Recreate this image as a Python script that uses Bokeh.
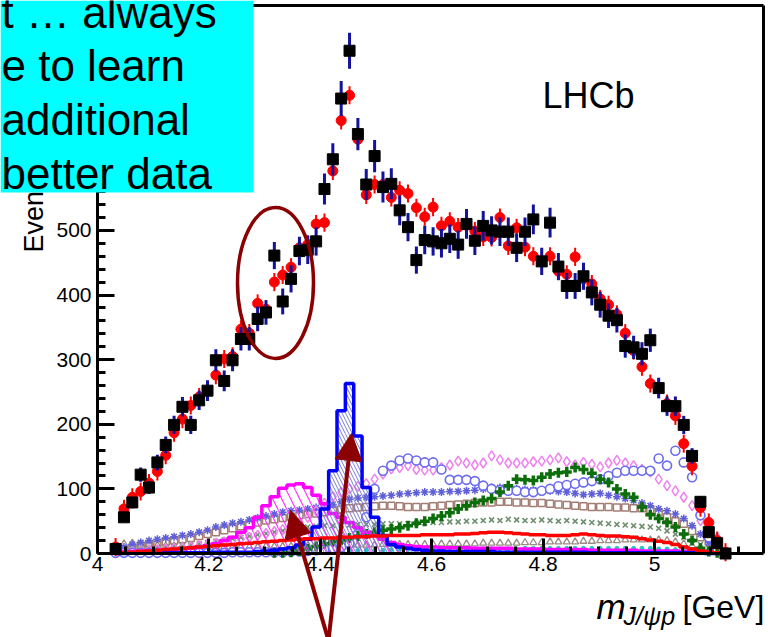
import numpy as np
from bokeh.plotting import figure
from bokeh.models import (FixedTicker, Label, Arrow, NormalHead, BoxAnnotation,
                          LinearAxis)
from bokeh.embed import file_html
from bokeh.resources import INLINE

# ---------------- data ----------------
bin_lo = 4.025          # lower edge of first 15 MeV bin
bin_w = 0.015

data_counts = [7, 56, 79, 122, 102, 141, 168, 199, 227, 199,
               237, 252, 299, 267, 299, 332, 332, 363, 373, 461,
               390, 425, 468, 470, 483, 564, 610, 704, 778, 649,
               571, 615, 567, 572, 531, 505, 454, 485, 483, 480,
               487, 478, 510, 484, 507, 500, 498, 498, 473, 498,
               517, 452, 512, 444, 414, 414, 429, 404, 385, 368,
               361, 321, 319, 309, 330, 256, 228, 228, 199, 151,
               80, 33, 16, 0]
data_err = [3, 7, 9, 11, 10, 12, 13, 14, 15, 14,
            15, 16, 17, 16, 17, 18, 18, 19, 19, 21,
            20, 21, 22, 22, 22, 24, 25, 27, 28, 25,
            24, 25, 24, 24, 23, 22, 21, 22, 22, 22,
            22, 22, 23, 22, 23, 22, 22, 22, 22, 22,
            23, 21, 23, 21, 20, 20, 21, 20, 20, 19,
            19, 18, 18, 18, 18, 16, 15, 15, 14, 12,
            9, 6, 4, 0]
fit_total = [10, 69, 87, 96, 109, 127, 152, 187, 208, 229,
             242, 252, 276, 301, 305, 347, 341, 387, 378, 420,
             431, 443, 473, 478, 510, 512, 592, 670, 709, 641,
             555, 571, 571, 551, 562, 557, 535, 521, 536, 507,
             514, 505, 508, 499, 490, 489, 520, 476, 504, 474,
             460, 453, 460, 437, 432, 459, 425, 417, 394, 385,
             370, 341, 314, 289, 263, 257, 232, 213, 170, 135,
             71, 48, 20, 2]
pc4450 = [0, 0, 1, 1, 1, 1, 1, 1, 1, 1,
          1, 1, 2, 2, 2, 2, 2, 3, 4, 5,
          7, 9, 13, 22, 41, 69, 128, 221, 263, 182,
          102, 56, 28, 14, 10, 8, 6, 5, 4, 4,
          3, 3, 3, 3, 3, 3, 2, 2, 2, 2,
          2, 2, 2, 2, 2, 2, 2, 1, 1, 1,
          1, 1, 1, 1, 1, 1, 1, 1, 1, 1,
          1, 0, 0, 0]
pc4380 = [2, 3, 3, 4, 4, 5, 5, 6, 7, 8,
          10, 12, 15, 20, 25, 33, 40, 56, 74, 88,
          101, 106, 108, 102, 90, 77, 62, 56, 48, 40,
          33, 28, 22, 17, 14, 12, 11, 10, 10, 9,
          9, 9, 9, 8, 8, 8, 8, 8, 7, 7,
          7, 7, 6, 6, 6, 6, 6, 5, 5, 5,
          5, 5, 5, 4, 4, 4, 4, 4, 3, 3,
          2, 2, 1, 0]
comp_circles = [1, 1, 1, 1, 1, 1, 1, 1, 1, 1,
                1, 1, 1, 1, 2, 2, 2, 2, 2, 2,
                2, 3, 3, 4, 5, 6, 8, 10, 15, 30,
                56, 100, 128, 136, 144, 147, 144, 141, 141, 130,
                114, 114, 114, 112, 105, 100, 98, 97, 97, 95,
                95, 97, 100, 104, 106, 108, 110, 112, 115, 120,
                125, 128, 128, 128, 128, 147, 136, 159, 141, 118,
                59, 25, 5, 0]
comp_diamonds = [1, 2, 3, 4, 5, 6, 7, 8, 9, 10,
                 12, 14, 16, 18, 20, 22, 25, 28, 31, 34,
                 37, 42, 48, 56, 66, 78, 88, 95, 100, 104,
                 108, 115, 123, 131, 133, 136, 130, 129, 129, 133,
                 137, 143, 140, 137, 140, 151, 145, 140, 140, 140,
                 142, 143, 145, 148, 142, 137, 141, 138, 134, 140,
                 144, 140, 136, 130, 126, 115, 105, 97, 87, 74,
                 51, 33, 25, 0]
comp_stars = [5, 10, 14, 17, 20, 22, 24, 26, 28, 30,
              33, 36, 41, 44, 47, 49, 52, 55, 58, 61,
              64, 66, 67, 69, 71, 72, 76, 80, 84, 86,
              87, 88, 89, 90, 92, 93, 94, 95, 95, 95,
              96, 96, 97, 98, 100, 102, 102, 101, 100, 99,
              98, 97, 97, 96, 95, 93, 91, 92, 93, 90,
              88, 85, 82, 78, 74, 69, 66, 61, 54, 43,
              30, 17, 10, 0]
comp_squares = [3, 6, 9, 12, 14, 16, 18, 20, 22, 24,
                27, 30, 33, 36, 39, 42, 45, 48, 51, 53,
                55, 57, 59, 61, 62, 64, 66, 68, 70, 71,
                72, 73, 74, 74, 73, 72, 72, 72, 73, 74,
                75, 76, 77, 78, 79, 79, 80, 80, 79, 79,
                78, 78, 77, 76, 75, 74, 73, 72, 72, 72,
                71, 71, 70, 70, 68, 64, 56, 50, 46, 35,
                25, 18, 10, 0]
comp_crosses = [0, 0, 0, 0, 0, 0, 0, 0, 0, 0,
                0, 0, 0, 0, 0, 0, 0, 0, 0, 1,
                1, 2, 4, 7, 11, 15, 18, 21, 24, 27,
                30, 33, 36, 38, 40, 43, 47, 50, 54, 58,
                63, 69, 74, 79, 82, 85, 95, 105, 115, 114,
                113, 118, 123, 125, 126, 133, 130, 124, 115, 110,
                100, 92, 87, 72, 60, 54, 48, 41, 30, 20,
                8, 3, 1, 0]
comp_xs = [1, 3, 5, 7, 8, 9, 10, 11, 12, 13,
           15, 17, 19, 21, 23, 25, 27, 29, 31, 33,
           35, 37, 39, 41, 42, 43, 43, 44, 44, 45,
           45, 45, 46, 46, 46, 46, 47, 47, 48, 48,
           49, 49, 50, 50, 51, 52, 51, 53, 52, 51,
           51, 52, 51, 50, 51, 50, 49, 48, 47, 46,
           45, 44, 43, 42, 41, 39, 35, 30, 25, 20,
           14, 8, 4, 0]
nonres = [0, 1, 2, 3, 4, 5, 6, 7, 8, 9,
          10, 11, 12, 13, 14, 15, 16, 17, 18, 19,
          20, 21, 22, 23, 23, 24, 24, 25, 25, 26,
          26, 27, 27, 28, 28, 28, 28, 29, 29, 29,
          29, 30, 30, 31, 32, 33, 33, 32, 31, 30,
          29, 29, 28, 28, 28, 29, 30, 29, 28, 27,
          27, 26, 25, 23, 21, 19, 17, 14, 10, 7,
          4, 2, 1, 0]
comp_triangles = [12, 15, 16, 15, 14, 13, 12, 12, 12, 11,
                  11, 11, 11, 10, 10, 10, 10, 10, 11, 11,
                  11, 11, 12, 12, 12, 12, 12, 13, 13, 13,
                  13, 13, 14, 14, 14, 14, 14, 14, 14, 15,
                  15, 15, 15, 15, 16, 16, 16, 16, 16, 17,
                  17, 17, 18, 18, 18, 18, 19, 19, 20, 20,
                  20, 21, 21, 21, 21, 21, 20, 18, 15, 12,
                  9, 6, 3, 0]
comp_dots = [1, 1, 1, 1, 1, 1, 1, 1, 2, 2,
             2, 2, 2, 2, 2, 3, 3, 3, 3, 3,
             3, 3, 4, 4, 4, 4, 4, 5, 5, 5,
             5, 5, 5, 6, 6, 6, 6, 6, 6, 6,
             7, 7, 7, 7, 7, 7, 7, 7, 7, 8,
             8, 8, 8, 8, 8, 8, 8, 8, 8, 8,
             8, 8, 8, 8, 8, 7, 7, 6, 5, 4,
             3, 2, 1, 0]

x_ticks = [4.0, 4.2, 4.4, 4.6, 4.8, 5.0]
x_tick_labels = ["4", "4.2", "4.4", "4.6", "4.8", "5"]
x_minor = [4.05, 4.10, 4.15, 4.25, 4.30, 4.35, 4.45, 4.50, 4.55,
           4.65, 4.70, 4.75, 4.85, 4.90, 4.95, 5.05, 5.10, 5.15]
y_ticks = [0, 100, 200, 300, 400, 500, 600, 700, 800]
y_tick_labels = ["0", "100", "200", "300", "400", "500", "600", "700", "800"]

annot_text = ["t \u2026 always", "e to learn", "additional", "better data"]

# ---------------- layout helpers ----------------
W, H = 768, 637
FL, FR, FT, FB = 97, 763, 5, 553      # plot box in pixels
X0, X1 = 4.0, 5.1957                  # axis range inside the box
Y0, Y1 = 0.0, 848.0


def sx(px):
    return X0 + (px - FL) * (X1 - X0) / (FR - FL)


def sy(py):
    return Y0 + (FB - py) * (Y1 - Y0) / (FB - FT)


n = len(data_counts)
xc = bin_lo + bin_w * (np.arange(n) + 0.5)
left = xc - bin_w / 2
right = xc + bin_w / 2

# the frame spans the whole canvas; axes are placed at fixed locations
p = figure(width=W, height=H, x_range=(sx(0), sx(W)), y_range=(sy(H), sy(0)),
           output_backend="svg", toolbar_location=None,
           min_border=0, min_border_left=0, min_border_right=0,
           min_border_top=0, min_border_bottom=0)
p.xgrid.visible = False
p.ygrid.visible = False
p.background_fill_color = "white"
p.border_fill_color = "white"
p.outline_line_color = None

FONT = "Liberation Sans"

p.xaxis.fixed_location = Y0
p.xaxis.bounds = (X0, X1)
p.xaxis.ticker = FixedTicker(ticks=x_ticks, minor_ticks=x_minor)
p.xaxis.major_label_overrides = dict(zip(x_ticks, x_tick_labels))
y_minor = [v for v in range(20, 848, 20) if v % 100]
p.yaxis.fixed_location = X0
p.yaxis.bounds = (Y0, Y1)
p.yaxis.ticker = FixedTicker(ticks=y_ticks, minor_ticks=y_minor)
p.yaxis.major_label_overrides = dict(zip(y_ticks, y_tick_labels))
for ax, tin, mtin in ((p.xaxis, 15, 7), (p.yaxis, 17, 8)):
    ax.axis_line_width = 3
    ax.axis_line_color = "black"
    ax.major_tick_in = tin
    ax.major_tick_out = 0
    ax.minor_tick_in = mtin
    ax.minor_tick_out = 0
    ax.major_tick_line_width = 3
    ax.minor_tick_line_width = 3
    ax.major_label_text_font = FONT
    ax.major_label_text_font_size = "21px"
    ax.major_label_text_color = "black"
p.xaxis.major_label_standoff = 3
p.yaxis.major_label_standoff = 6

# top and right frame borders (tick-less axes)
top_ax = LinearAxis(fixed_location=Y1, bounds=(X0, X1),
                    ticker=FixedTicker(ticks=[]), axis_line_width=3,
                    major_label_text_font_size="0px")
right_ax = LinearAxis(fixed_location=X1, bounds=(Y0, Y1),
                      ticker=FixedTicker(ticks=[]), axis_line_width=3,
                      major_label_text_font_size="0px")
p.add_layout(top_ax, "above")
p.add_layout(right_ax, "right")

# ---------------- component histograms ----------------
p.scatter(xc, comp_dots, marker="circle", size=4, fill_color="#22c4c4",
          line_color="#22c4c4")
p.scatter(xc, comp_triangles, marker="triangle", size=7, fill_color=None,
          line_color="#9a8a84", line_width=1.3)
p.scatter(xc, comp_xs, marker="x", size=7, line_color="#6f9070", line_width=1.6)
p.scatter(xc, comp_squares, marker="square", size=7, fill_color=None,
          line_color="#a37d74", line_width=1.5)
p.scatter(xc, comp_stars, marker="asterisk", size=8, line_color="#5f5fd8",
          line_width=1.5)
p.scatter(xc, comp_diamonds, marker="diamond", size=10, fill_color=None,
          line_color="#ee82ee", line_width=1.5)
circ = np.array(comp_circles, dtype=float)
p.segment(xc, circ - 7, xc, circ + 7, line_color="#6b6bf0", line_width=1.3,
          line_dash="3 2")
p.scatter(xc, comp_circles, marker="circle", size=9, fill_color="white",
          line_color="#6b6bf0", line_width=1.6)
cr = np.array(comp_crosses, dtype=float)
m = cr >= 1
p.scatter(xc[m], cr[m], marker="cross", size=10, line_color="#0b6e0b",
          line_width=3.5)

# Pc(4380) magenta hatched histogram
p.quad(left=left, right=right, bottom=0, top=pc4380, fill_color=None,
       line_color=None, hatch_pattern="left_diagonal_line",
       hatch_color="#ff33ff", hatch_scale=18, hatch_weight=1.2)
p.step(xc, pc4380, mode="center", line_color="#ff00ff", line_width=3.5)

# Pc(4450) blue hatched histogram
p.quad(left=left, right=right, bottom=0, top=pc4450, fill_color=None,
       line_color=None, hatch_pattern="left_diagonal_line",
       hatch_color="#7a7ad0", hatch_scale=7, hatch_weight=1)
p.step(xc, pc4450, mode="center", line_color="#0000ff", line_width=3.5)

# non-resonant / background red line
p.step(xc, nonres, mode="center", line_color="#ff0000", line_width=3.5)

# ---------------- fit and data ----------------
fit = np.array(fit_total, dtype=float)
p.segment(xc, fit - 14, xc, fit + 14, line_color="#ff0000", line_width=2)
p.scatter(xc, fit, marker="circle", size=10, fill_color="#ff0000",
          line_color="#ff0000")

d = np.array(data_counts, dtype=float)
e = np.array(data_err, dtype=float)
p.segment(xc, d - e, xc, d + e, line_color="#12129c", line_width=3)
p.scatter(xc, d, marker="square", size=11, fill_color="black",
          line_color="black")

# ---------------- annotations ----------------
dark_red = "#8b0000"
p.ellipse(x=[sx(275)], y=[sy(282.5)], width=[76 * (X1 - X0) / (FR - FL)],
          height=[151 * (Y1 - Y0) / (FB - FT)], fill_color=None,
          line_color=dark_red, line_width=3.5)

for (tx, ty) in ((290, 510), (351, 433)):
    p.add_layout(Arrow(end=NormalHead(size=27, fill_color=dark_red,
                                      line_color=dark_red),
                       x_start=sx(328), y_start=sy(640),
                       x_end=sx(tx), y_end=sy(ty),
                       line_color=dark_red, line_width=4))

p.add_layout(Label(x=sx(542), y=sy(95), text="LHCb", text_font=FONT,
                   text_font_size="36px", text_color="black",
                   text_align="left", text_baseline="alphabetic"))

# axis titles
p.add_layout(Label(x=sx(33), y=sy(252), text="Events / (15 MeV)",
                   angle=np.pi / 2, text_font=FONT, text_font_size="27px",
                   text_align="left", text_baseline="alphabetic",
                   text_color="black"))
p.add_layout(Label(x=sx(596), y=sy(606), text="m", text_font=FONT,
                   text_font_style="italic", text_font_size="35px",
                   text_align="left", text_baseline="alphabetic",
                   text_color="black"))
p.add_layout(Label(x=sx(623), y=sy(615), text="J/\u03c8p", text_font=FONT,
                   text_font_style="italic", text_font_size="25px",
                   text_align="left", text_baseline="alphabetic",
                   text_color="black"))
p.add_layout(Label(x=sx(682), y=sy(606), text="[GeV]", text_font=FONT,
                   text_font_size="32px", text_align="left",
                   text_baseline="alphabetic", text_color="black"))

# cyan text box
p.add_layout(BoxAnnotation(left=sx(0), right=sx(253), top=sy(0),
                           bottom=sy(192), fill_color="#00ffff",
                           fill_alpha=1.0, line_color=None))
for txt, base in zip(annot_text, (12, 65, 119, 173)):
    p.add_layout(Label(x=sx(1), y=sy(base), text=txt, text_font=FONT,
                       text_font_size="44px", text_color="black",
                       text_align="left", text_baseline="alphabetic"))

open("out.html", "w").write(file_html(p, INLINE))
